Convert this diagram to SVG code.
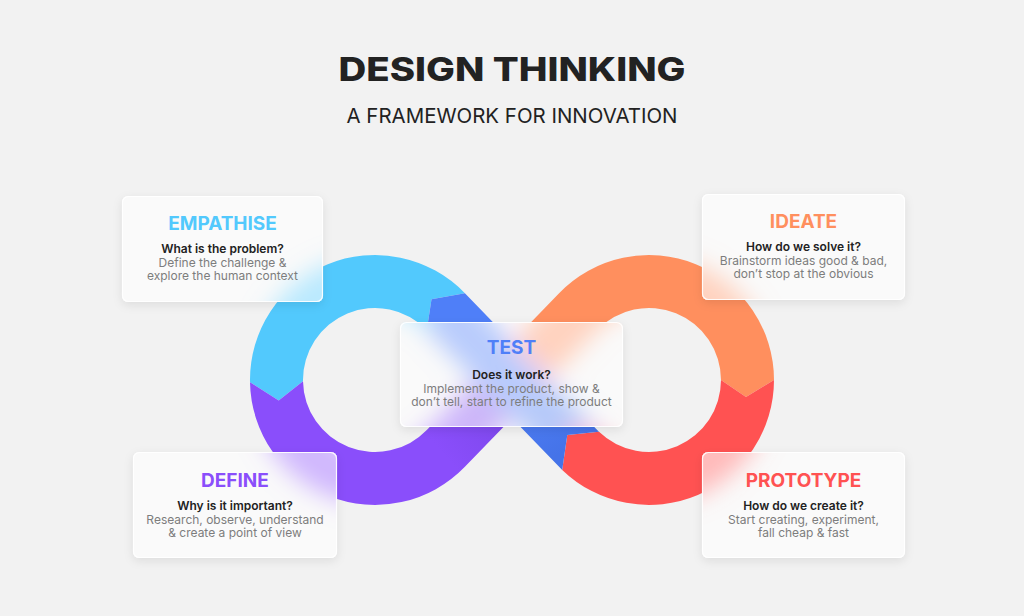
<svg xmlns="http://www.w3.org/2000/svg" xmlns:xlink="http://www.w3.org/1999/xlink" width="1024" height="616" viewBox="0 0 1024 616">
<style>
.ttl{font-family:Inter,"Noto Sans","Liberation Sans",sans-serif;font-weight:700;font-size:19px;text-anchor:middle}
.q{font-family:Inter,"Noto Sans","Liberation Sans",sans-serif;font-weight:600;font-size:12px;fill:#222;text-anchor:middle}
.b{font-family:Inter,"Noto Sans","Liberation Sans",sans-serif;font-weight:400;font-size:12px;fill:#7d7d7d;text-anchor:middle}
.glass{fill:#fff;opacity:.6}
.edge{fill:none;stroke:#fff;stroke-width:1.2;opacity:.9}
.shad{fill:#f6f6f6}
</style>
<defs>
<linearGradient id="gP" gradientUnits="userSpaceOnUse" x1="440" y1="450" x2="505" y2="395"><stop offset="0" stop-color="#8a4efb"/><stop offset="1" stop-color="#7b46e8"/></linearGradient>
<linearGradient id="gB" gradientUnits="userSpaceOnUse" x1="515" y1="385" x2="565" y2="450"><stop offset="0" stop-color="#4f7ff8"/><stop offset="1" stop-color="#4573e8"/></linearGradient>
<g id="band">
<path fill="#52c9fd" d="M464.9 293.2 A125 125 0 0 0 250 382.2 L278.7 400.5 L303 381.3 A72 72 0 0 1 426.8 330 L431.5 299.3 Z"/>
<path fill="url(#gP)" d="M250 382.2 A125 125 0 0 0 464.9 466.8 L531.1 398.4 L492.9 361.6 L426.8 430 A72 72 0 0 1 303 381.3 L278.7 400.5 Z"/>
<path fill="#ff8f5e" d="M492.9 361.6 L559.1 293.2 A125 125 0 0 1 774 380 L746 397.1 L721 380 A72 72 0 0 0 597.2 330 L531.1 398.4 Z"/>
<path fill="#ff5252" d="M774 380 A125 125 0 0 1 562.2 469.9 L567.3 435.1 L599 431.8 A72 72 0 0 0 721 380 L746 397.1 Z"/>
<path fill="url(#gB)" d="M562.2 469.9 L567.3 435.1 L599 431.8 L597.2 430 L464.9 293.2 L431.5 299.3 L426.8 330 L559.1 466.8 Z"/>
</g>
<filter id="frost" filterUnits="userSpaceOnUse" x="0" y="0" width="1024" height="616"><feGaussianBlur stdDeviation="12"/></filter>
<filter id="shadow" x="-20%" y="-20%" width="140%" height="150%"><feDropShadow dx="0" dy="3" stdDeviation="5" flood-color="#000" flood-opacity="0.09"/></filter>
<clipPath id="cE"><rect x="122" y="196" width="201" height="106" rx="6"/></clipPath>
<clipPath id="cI"><rect x="702" y="194" width="203" height="106" rx="6"/></clipPath>
<clipPath id="cD"><rect x="133" y="452" width="204" height="106" rx="6"/></clipPath>
<clipPath id="cP"><rect x="702" y="452" width="203" height="106" rx="6"/></clipPath>
<clipPath id="cT"><rect x="400" y="322" width="223" height="105" rx="6"/></clipPath>
</defs>
<rect width="1024" height="616" fill="#f2f2f2"/>
<g id="title">
<text x="512" y="81" font-family="Inter,'Noto Sans','Liberation Sans',sans-serif" font-weight="800" font-size="32" fill="#222" text-anchor="middle" textLength="347" lengthAdjust="spacingAndGlyphs">DESIGN THINKING</text>
<text x="512" y="123" font-family="Inter,'Noto Sans','Liberation Sans',sans-serif" font-weight="400" font-size="20" fill="#222" text-anchor="middle" textLength="331" lengthAdjust="spacingAndGlyphs">A FRAMEWORK FOR INNOVATION</text>
</g>
<g id="connectors"><use href="#band" xlink:href="#band"/></g>
<g id="empathise">
<rect class="shad" x="122" y="196" width="201" height="106" rx="6" filter="url(#shadow)"/>
<g clip-path="url(#cE)"><rect x="122" y="196" width="201" height="106" fill="#f2f2f2"/><use href="#band" xlink:href="#band" filter="url(#frost)"/><rect class="glass" x="122" y="196" width="201" height="106"/></g>
<rect class="edge" x="122.5" y="196.5" width="200" height="105" rx="6"/>
<text class="ttl" x="222.5" y="230" fill="#52c9fd">EMPATHISE</text>
<text class="q" x="222.5" y="253">What is the problem?</text>
<text class="b" x="222.5" y="267">Define the challenge &amp;</text>
<text class="b" x="222.5" y="280">explore the human context</text>
</g>
<g id="ideate">
<rect class="shad" x="702" y="194" width="203" height="106" rx="6" filter="url(#shadow)"/>
<g clip-path="url(#cI)"><rect x="702" y="194" width="203" height="106" fill="#f2f2f2"/><use href="#band" xlink:href="#band" filter="url(#frost)"/><rect class="glass" x="702" y="194" width="203" height="106"/></g>
<rect class="edge" x="702.5" y="194.5" width="202" height="105" rx="6"/>
<text class="ttl" x="803.5" y="228" fill="#ff8f5e">IDEATE</text>
<text class="q" x="803.5" y="251">How do we solve it?</text>
<text class="b" x="803.5" y="265">Brainstorm ideas good &amp; bad,</text>
<text class="b" x="803.5" y="278">don’t stop at the obvious</text>
</g>
<g id="define">
<rect class="shad" x="133" y="452" width="204" height="106" rx="6" filter="url(#shadow)"/>
<g clip-path="url(#cD)"><rect x="133" y="452" width="204" height="106" fill="#f2f2f2"/><use href="#band" xlink:href="#band" filter="url(#frost)"/><rect class="glass" x="133" y="452" width="204" height="106"/></g>
<rect class="edge" x="133.5" y="452.5" width="203" height="105" rx="6"/>
<text class="ttl" x="235" y="487" fill="#8a4efb">DEFINE</text>
<text class="q" x="235" y="510">Why is it important?</text>
<text class="b" x="235" y="524">Research, observe, understand</text>
<text class="b" x="235" y="537">&amp; create a point of view</text>
</g>
<g id="prototype">
<rect class="shad" x="702" y="452" width="203" height="106" rx="6" filter="url(#shadow)"/>
<g clip-path="url(#cP)"><rect x="702" y="452" width="203" height="106" fill="#f2f2f2"/><use href="#band" xlink:href="#band" filter="url(#frost)"/><rect class="glass" x="702" y="452" width="203" height="106"/></g>
<rect class="edge" x="702.5" y="452.5" width="202" height="105" rx="6"/>
<text class="ttl" x="803.5" y="487" fill="#ff5252">PROTOTYPE</text>
<text class="q" x="803.5" y="510">How do we create it?</text>
<text class="b" x="803.5" y="524">Start creating, experiment,</text>
<text class="b" x="803.5" y="537">fall cheap &amp; fast</text>
</g>
<g id="test">
<rect class="shad" x="400" y="322" width="223" height="105" rx="6" filter="url(#shadow)"/>
<g clip-path="url(#cT)"><rect x="400" y="322" width="223" height="105" fill="#f2f2f2"/><use href="#band" xlink:href="#band" filter="url(#frost)"/><rect class="glass" x="400" y="322" width="223" height="105"/></g>
<rect class="edge" x="400.5" y="322.5" width="222" height="104" rx="6"/>
<text class="ttl" x="511.5" y="354" fill="#4f7ff8">TEST</text>
<text class="q" x="511.5" y="379">Does it work?</text>
<text class="b" x="511.5" y="393">Implement the product, show &amp;</text>
<text class="b" x="511.5" y="406">don’t tell, start to refine the product</text>
</g>
</svg>
